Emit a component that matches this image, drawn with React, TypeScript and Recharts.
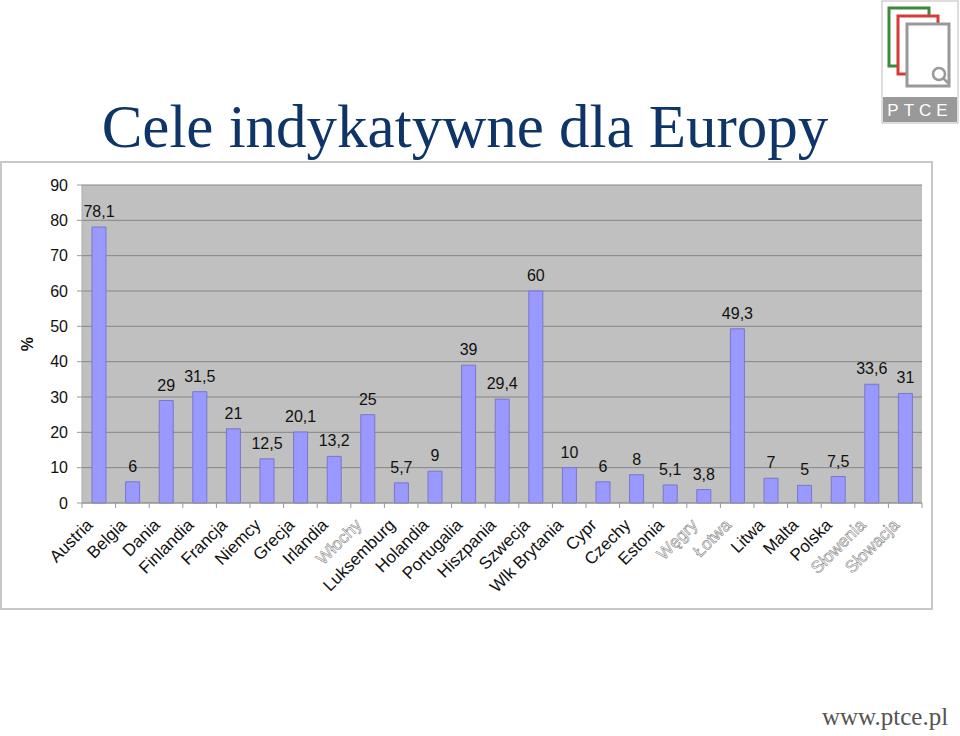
import React from 'react';
import { BarChart, Bar, XAxis, YAxis, CartesianGrid, LabelList } from 'recharts';

const countries = [
  'Austria', 'Belgia', 'Dania', 'Finlandia', 'Francja', 'Niemcy', 'Grecja',
  'Irlandia', 'Włochy', 'Luksemburg', 'Holandia', 'Portugalia', 'Hiszpania',
  'Szwecja', 'Wlk Brytania', 'Cypr', 'Czechy', 'Estonia', 'Węgry', 'Łotwa',
  'Litwa', 'Malta', 'Polska', 'Słowenia', 'Słowacja',
];

const targets = [
  78.1, 6, 29, 31.5, 21, 12.5, 20.1, 13.2, 25, 5.7, 9, 39, 29.4, 60, 10, 6, 8,
  5.1, 3.8, 49.3, 7, 5, 7.5, 33.6, 31,
];

// names drawn as hollow grey text in the original slide
const hollowNames = ['Włochy', 'Węgry', 'Łotwa', 'Słowenia', 'Słowacja'];

const yTicks = [0, 10, 20, 30, 40, 50, 60, 70, 80, 90];

const chartData = countries.map((name, i) => ({ name, value: targets[i] }));

const FONT = '"Liberation Sans", Arial, sans-serif';
const SERIF = '"Liberation Serif", "Times New Roman", serif';
const CHART_W = 930;
const CHART_H = 448;
const Y_W = 81;
const RIGHT = 9;
const BAND = (CHART_W - Y_W - RIGHT) / countries.length;

function CountryTick(props: any) {
  const { x, y, payload, index } = props;
  const hollow = hollowNames.includes(payload.value);
  const tx = x - 5;
  const ty = y + 23;
  return (
    <g>
      <line x1={x - BAND / 2} y1={y} x2={x - BAND / 2} y2={y + 5} stroke="#999" />
      {index === countries.length - 1 && (
        <line x1={x + BAND / 2} y1={y} x2={x + BAND / 2} y2={y + 5} stroke="#999" />
      )}
      <text
        x={tx}
        y={ty}
        transform={`rotate(-45, ${tx}, ${ty})`}
        textAnchor="end"
        fontFamily={FONT}
        fontSize={17}
        fill={hollow ? '#ffffff' : '#111'}
        stroke={hollow ? '#888' : 'none'}
        strokeWidth={hollow ? 0.6 : 0}
      >
        {payload.value}
      </text>
    </g>
  );
}

function PercentLabel(props: any) {
  const { viewBox } = props;
  const cy = viewBox.y + viewBox.height / 2;
  return (
    <text
      x={26}
      y={cy}
      transform={`rotate(-90, 26, ${cy})`}
      textAnchor="middle"
      dominantBaseline="central"
      fontFamily={FONT}
      fontSize={16}
      fontWeight="bold"
      fill="#111"
    >
      %
    </text>
  );
}

function Logo() {
  return (
    <svg width={78} height={124} style={{ position: 'absolute', left: 881, top: 0 }}>
      <rect x={1} y={1} width={76} height={122} fill="#fff" stroke="#bbb" />
      <rect x={8} y={8} width={40} height={58} fill="#fff" stroke="#3a8a3a" strokeWidth={3} />
      <rect x={17} y={16} width={40} height={58} fill="#fff" stroke="#d83a3a" strokeWidth={3} />
      <rect x={26} y={24} width={42} height={62} fill="#fff" stroke="#999" strokeWidth={3} />
      <circle cx={58} cy={74} r={6} fill="none" stroke="#999" strokeWidth={2.5} />
      <line x1={62} y1={78} x2={67} y2={83} stroke="#999" strokeWidth={2.5} />
      <rect x={2} y={97} width={74} height={25} fill="#999" />
      <text
        x={39}
        y={116}
        textAnchor="middle"
        fontFamily={FONT}
        fontSize={17}
        fill="#fff"
        letterSpacing={5}
      >
        PTCE
      </text>
    </svg>
  );
}

export default function App() {
  return (
    <div
      style={{
        position: 'absolute',
        left: 0,
        top: 0,
        width: 960,
        height: 736,
        background: '#fff',
        overflow: 'hidden',
      }}
    >
      <div
        style={{
          position: 'absolute',
          left: 0,
          top: 92,
          width: 930,
          textAlign: 'center',
          fontFamily: SERIF,
          fontSize: 61,
          lineHeight: '70px',
          color: '#0e3468',
          whiteSpace: 'nowrap',
        }}
      >
        Cele indykatywne dla Europy
      </div>
      <Logo />
      <div
        style={{
          position: 'absolute',
          left: 0,
          top: 161,
          width: 933,
          height: 449,
          boxSizing: 'border-box',
          border: '2px solid #c8c8c8',
          background: '#fff',
          overflow: 'hidden',
        }}
      >
        <div style={{ position: 'absolute', left: -1, top: -1 }}>
          <BarChart
            width={CHART_W}
            height={CHART_H}
            data={chartData}
            margin={{ top: 23, right: RIGHT, left: 0, bottom: 0 }}
            barSize={14}
          >
            <CartesianGrid
              vertical={false}
              fill="#c0c0c0"
              stroke="#858585"
              strokeDasharray="0"
            />
            <XAxis
              dataKey="name"
              interval={0}
              height={107}
              tickSize={0}
              tickMargin={0}
              tickLine={false}
              axisLine={{ stroke: '#999' }}
              tick={<CountryTick />}
            />
            <YAxis
              width={Y_W}
              domain={[0, 90]}
              ticks={yTicks}
              interval={0}
              tickSize={5}
              tickMargin={9}
              axisLine={{ stroke: '#aaa' }}
              tickLine={{ stroke: '#999' }}
              tick={{ fontFamily: FONT, fontSize: 16, fill: '#111' }}
              label={<PercentLabel />}
            />
            <Bar
              dataKey="value"
              fill="#9999ff"
              stroke="#7777cc"
              strokeWidth={1}
              isAnimationActive={false}
            >
              <LabelList
                dataKey="value"
                position="top"
                offset={10}
                formatter={(v: any) => String(v).replace('.', ',')}
                style={{ fontFamily: FONT, fontSize: 16, fill: '#111' }}
              />
            </Bar>
          </BarChart>
        </div>
      </div>
      <div
        style={{
          position: 'absolute',
          left: 822,
          top: 703,
          fontFamily: SERIF,
          fontSize: 25,
          color: '#555',
        }}
      >
        www.ptce.pl
      </div>
    </div>
  );
}
